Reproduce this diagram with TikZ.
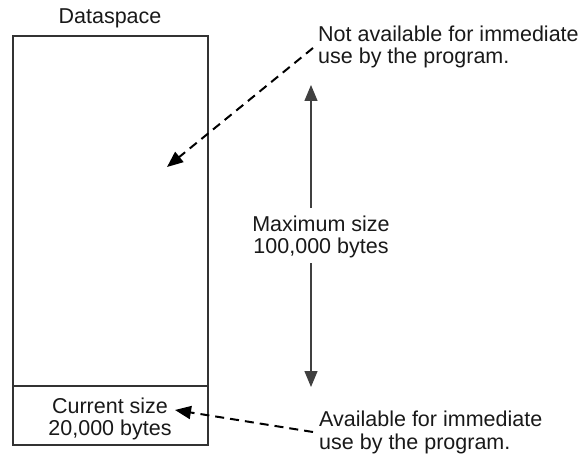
\documentclass[tikz,border=0pt]{standalone}
\usepackage{fontspec}
\setmainfont{Liberation Sans}
\usetikzlibrary{arrows.meta}
\begin{document}
\begin{tikzpicture}[x=1pt,y=-1pt,
  txt/.style={inner sep=0pt,font=\fontsize{21.5}{22.5}\selectfont,text=black!90},
  boxline/.style={draw=black!80,line width=2.6pt},
  tip/.style={-{Triangle[length=16pt,width=13pt]}},
  dashconn/.style={tip,draw=black,line width=2pt,dash pattern=on 9pt off 6pt},
  solidconn/.style={draw=black!75,line width=1.3pt}]
\useasboundingbox (0,0) rectangle (583,457);
\node[boxline,minimum width=195pt,minimum height=409pt,inner sep=0pt] (box) at (110.5,240.5) {};
\coordinate (divl) at (13,386);
\coordinate (divr) at (208,386);
\draw[boxline] (divl) -- (divr);
\node[txt] (title) at (110,18) {Dataspace};
\node[txt,align=center] (cur) at (110,419) {Current size\\20,000 bytes};
\node[txt,align=center] (maxl) at (321,237) {Maximum size\\100,000 bytes};
\coordinate (uptip) at (311,85);
\coordinate (dntip) at (311,387);
\coordinate (upst) at (311,208);
\coordinate (dnst) at (311,263);
\draw[solidconn,tip] (upst) -- (uptip);
\draw[solidconn,tip] (dnst) -- (dntip);
\node[txt,align=left,anchor=west] (notav) at (318,47) {Not available for immediate\\use by the program.};
\node[txt,align=left,anchor=west] (av) at (319,432.5) {Available for immediate\\use by the program.};
\coordinate (d1s) at (313,48);
\coordinate (d1t) at (167,167);
\draw[dashconn] (d1s) -- (d1t);
\coordinate (d2s) at (313,432);
\coordinate (d2t) at (175,410);
\draw[dashconn] (d2s) -- (d2t);
\end{tikzpicture}
\end{document}
